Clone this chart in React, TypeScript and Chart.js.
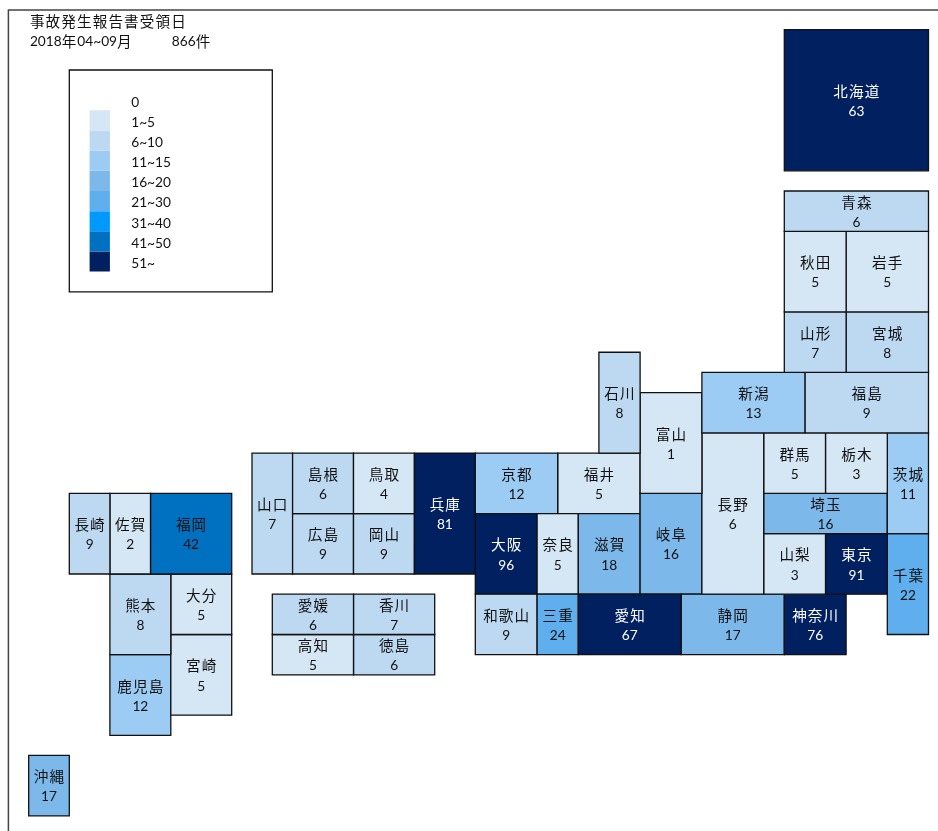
import React, { useEffect, useRef } from "react";
import { Chart, registerables } from "chart.js";

Chart.register(...registerables);

const titleLine = "事故発生報告書受領日";
const periodLabel = "2018年04~09月";
const totalLabel = "866件";

const legendLabels = ["0", "1~5", "6~10", "11~15", "16~20", "21~30", "31~40", "41~50", "51~"];
const legendMins = [1, 6, 11, 16, 21, 31, 41, 51];
const legendColors = ["#D5E6F5", "#BDD9F2", "#9CCBF4", "#7DB8EA", "#5FAEED", "#0099FF", "#0070C0", "#002060"];

const prefectures = [
  "北海道", "青森", "秋田", "岩手", "山形", "宮城", "新潟", "福島", "石川", "富山", "長野", "群馬",
  "栃木", "茨城", "埼玉", "山梨", "東京", "千葉", "神奈川", "静岡", "愛知", "三重", "和歌山", "岐阜",
  "滋賀", "奈良", "大阪", "京都", "福井", "兵庫", "鳥取", "岡山", "島根", "広島", "山口", "長崎",
  "佐賀", "福岡", "熊本", "大分", "宮崎", "鹿児島", "沖縄", "愛媛", "香川", "高知", "徳島",
];
const counts = [
  63, 6, 5, 5, 7, 8, 13, 9, 8, 1, 6, 5,
  3, 11, 16, 3, 91, 22, 76, 17, 67, 24, 9, 16,
  18, 5, 96, 12, 5, 81, 4, 9, 6, 9, 7, 9,
  2, 42, 8, 5, 5, 12, 17, 6, 7, 5, 6,
];
// The reference shades 長野 (labelled 6) in the 1~5 class.
const shadeOverrides: Record<string, number> = { 長野: 5 };

// Tile-grid layout: the map's own axis units [left, top, right, bottom]
const tileGrid: number[][] = [
  [37, 0, 44, 7], [37, 8, 44, 10], [37, 10, 40, 14], [40, 10, 44, 14], [37, 14, 40, 17], [40, 14, 44, 17],
  [33, 17, 38, 20], [38, 17, 44, 20], [28, 16, 30, 21], [30, 18, 33, 23], [33, 20, 36, 28], [36, 20, 39, 23],
  [39, 20, 42, 23], [42, 20, 44, 25], [36, 23, 42, 25], [36, 25, 39, 28], [39, 25, 42, 28], [42, 25, 44, 30],
  [37, 28, 40, 31], [32, 28, 37, 31], [27, 28, 32, 31], [25, 28, 27, 31], [22, 28, 25, 31], [30, 23, 33, 28],
  [27, 24, 30, 28], [25, 24, 27, 28], [22, 24, 25, 28], [22, 21, 26, 24], [26, 21, 30, 24], [19, 21, 22, 27],
  [16, 21, 19, 24], [16, 24, 19, 27], [13, 21, 16, 24], [13, 24, 16, 27], [11, 21, 13, 27], [2, 23, 4, 27],
  [4, 23, 6, 27], [6, 23, 10, 27], [4, 27, 7, 31], [7, 27, 10, 30], [7, 30, 10, 34], [4, 31, 7, 35],
  [0, 36, 2, 39], [12, 28, 16, 30], [16, 28, 20, 30], [12, 30, 16, 32], [16, 30, 20, 32],
];

const LATIN = "Lato, 'Noto Sans', sans-serif";
const CJK = "'Noto Sans CJK JP', sans-serif";

// Columns east of grid line 22 are slightly wider in the reference sheet.
const col = (c: number) => (c <= 22 ? c : 22 + (c - 22) * 1.01478);

const colorFor = (v: number) => {
  let c = legendColors[0];
  legendMins.forEach((m, i) => {
    if (v >= m) c = legendColors[i];
  });
  return c;
};

const ring = (l: number, t: number, r: number, b: number) => [
  { x: l, y: t }, { x: r, y: t }, { x: r, y: b }, { x: l, y: b }, { x: l, y: t },
];

const runsOf = (s: string) => s.match(/[\u3000-\u9fff]+|[^\u3000-\u9fff]+/g) || [];
const isCjk = (run: string) => /[\u3000-\u9fff]/.test(run);

function setRunFont(ctx: any, run: string) {
  if (isCjk(run)) {
    ctx.font = `14.6px ${CJK}`;
    ctx.letterSpacing = "1.1px";
  } else {
    ctx.font = `13.7px ${LATIN}`;
    ctx.letterSpacing = "0px";
  }
}

function drawText(ctx: any, s: string, x: number, y: number, align: "left" | "center", color: string) {
  const runs = runsOf(s);
  ctx.textBaseline = "middle";
  ctx.textAlign = "left";
  ctx.fillStyle = color;
  let total = 0;
  runs.forEach((r) => {
    setRunFont(ctx, r);
    total += ctx.measureText(r).width;
  });
  let cx = align === "center" ? x - total / 2 + (isCjk(s) ? 0.5 : 0) : x;
  runs.forEach((r) => {
    setRunFont(ctx, r);
    ctx.fillText(r, cx, y);
    cx += ctx.measureText(r).width;
  });
  ctx.letterSpacing = "0px";
}

const labelPlugin = {
  id: "tileLabels",
  afterDatasetsDraw(chart: any) {
    const { ctx, scales } = chart;
    const X = (v: number) => scales.x.getPixelForValue(v);
    const Y = (v: number) => scales.y.getPixelForValue(v);
    ctx.save();
    const ink = "#111111";
    prefectures.forEach((name, i) => {
      const [l, t, r, b] = tileGrid[i];
      const cx = (X(col(l)) + X(col(r))) / 2;
      const cy = (Y(t) + Y(b)) / 2;
      const c = counts[i] > 50 ? "#FFFFFF" : ink;
      drawText(ctx, name, cx, cy - 9, "center", c);
      drawText(ctx, String(counts[i]), cx, cy + 11.3, "center", c);
    });
    drawText(ctx, titleLine, X(0.06), Y(-0.42), "left", ink);
    drawText(ctx, periodLabel, X(0.06), Y(0.58), "left", ink);
    drawText(ctx, totalLabel, X(7.05), Y(0.58), "left", ink);
    legendLabels.forEach((lab, i) => {
      drawText(ctx, lab, X(5.05), Y(3.6 + i), "left", ink);
    });
    ctx.restore();
  },
};

export default function App() {
  const ref = useRef<HTMLCanvasElement>(null);
  useEffect(() => {
    const tiles = prefectures.map((name, i) => {
      const [l, t, r, b] = tileGrid[i];
      return {
        label: name,
        data: ring(col(l), t, col(r), b),
        backgroundColor: colorFor(shadeOverrides[name] ?? counts[i]),
        borderColor: "#111111",
        borderWidth: 1.3,
        fill: "shape",
        showLine: true,
        pointRadius: 0,
        borderJoinStyle: "miter",
        borderCapStyle: "square",
      };
    });
    const swatches = legendColors.map((c, i) => ({
      label: legendLabels[i + 1],
      data: ring(3, 4 + i, 4, 5 + i),
      backgroundColor: c,
      borderWidth: 0,
      fill: "shape",
      showLine: true,
      pointRadius: 0,
    }));
    const legendBox = {
      label: "legend box",
      data: ring(2, 2, 12, 13),
      borderColor: "#111111",
      borderWidth: 1.3,
      showLine: true,
      pointRadius: 0,
      fill: false,
      borderJoinStyle: "miter",
      borderCapStyle: "square",
    };
    const frame = {
      label: "frame",
      data: [{ x: -1, y: 39.8 }, { x: -1, y: -0.98 }, { x: 44.8, y: -0.98 }],
      borderColor: "#444444",
      borderWidth: 1.5,
      showLine: true,
      pointRadius: 0,
      fill: false,
      borderJoinStyle: "miter",
    };
    const chart = new Chart(ref.current as HTMLCanvasElement, {
      type: "scatter",
      data: { datasets: [...tiles, ...swatches, legendBox, frame] as any },
      options: {
        responsive: false,
        animation: false,
        layout: { padding: 0 },
        plugins: { legend: { display: false }, tooltip: { enabled: false } },
        scales: {
          x: { type: "linear", display: false, min: -1.4138, max: 44.793 },
          y: { type: "linear", display: false, reverse: true, min: -1.4732, max: 39.747 },
        },
      },
      plugins: [labelPlugin],
    });
    return () => chart.destroy();
  }, []);
  return (
    <canvas
      ref={ref}
      width={938}
      height={831}
      style={{ position: "absolute", left: 0, top: 0, width: 938, height: 831, display: "block" }}
    />
  );
}
